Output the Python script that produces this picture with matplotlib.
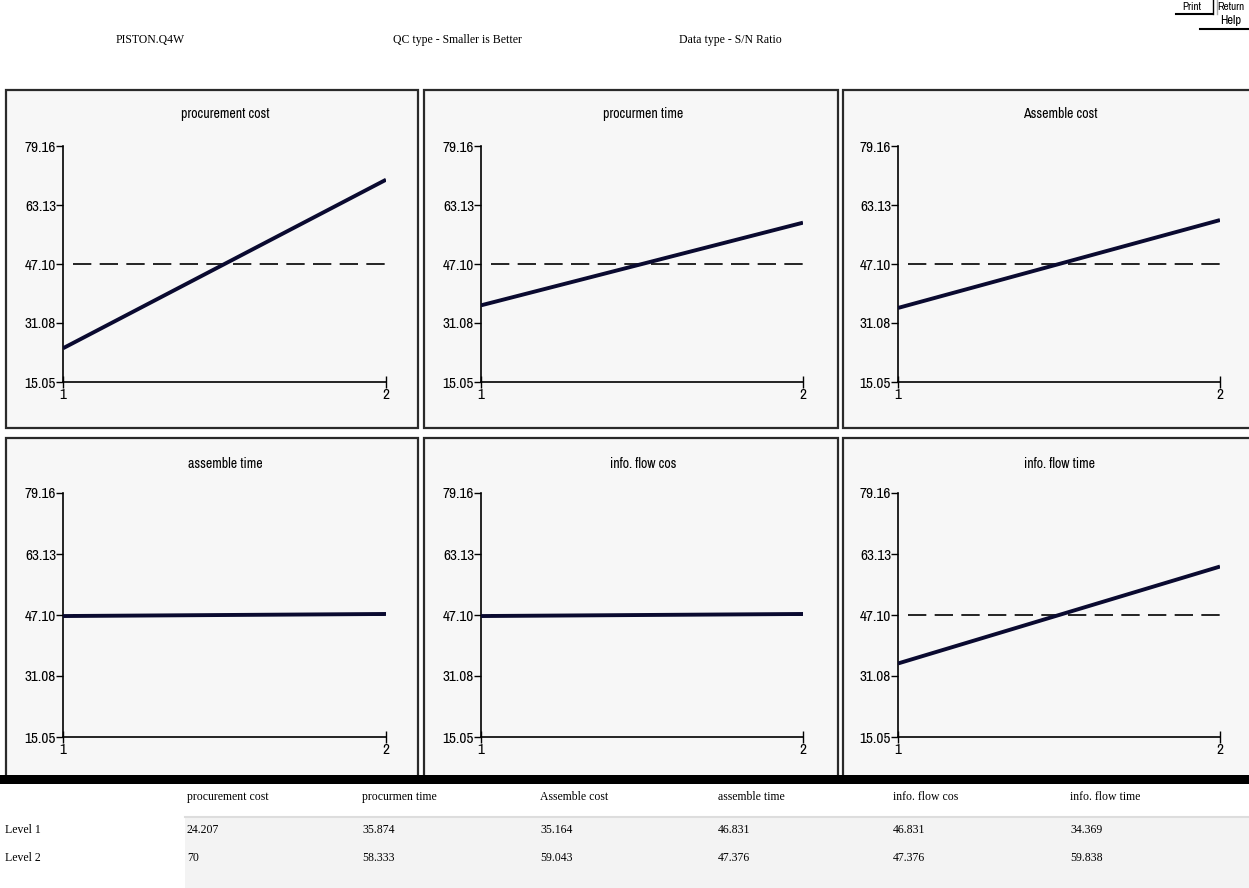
import matplotlib
matplotlib.use("Agg")
import matplotlib.pyplot as plt
from matplotlib.patches import Rectangle
from matplotlib.lines import Line2D
from matplotlib import font_manager as fm

# ---------------- data ----------------
factors = ["procurement cost", "procurmen time", "Assemble cost",
           "assemble time", "info. flow cos", "info. flow time"]
level1 = [24.207, 35.874, 35.164, 46.831, 46.831, 34.369]
level2 = [70, 58.333, 59.043, 47.376, 47.376, 59.838]
level1_txt = ["24.207", "35.874", "35.164", "46.831", "46.831", "34.369"]
level2_txt = ["70", "58.333", "59.043", "47.376", "47.376", "59.838"]
yticks = [15.05, 31.08, 47.10, 63.13, 79.16]
ytick_labels = ["15.05", "31.08", "47.10", "63.13", "79.16"]
xlevels = [1, 2]
grand_mean = 47.10

W, H = 1249, 888
fig = plt.figure(figsize=(W / 100, H / 100), dpi=100)
fig.patch.set_facecolor("white")

names = sorted({f.name for f in fm.fontManager.ttflist})
narrow_candidates = [n for n in names if "Narrow" in n or "Condensed" in n]
if narrow_candidates:
    NARROW = [narrow_candidates[0], "DejaVu Sans"]
else:
    NARROW = ["DejaVu Sans"]
SERIF = ["Liberation Serif", "DejaVu Serif"]


def fx(x):
    return x / W


def fy(y):
    return 1 - y / H


def px_axes(x0, y0, x1, y1, **kw):
    return fig.add_axes([fx(x0), fy(y1), (x1 - x0) / W, (y1 - y0) / H], **kw)


bg = fig.add_axes([0, 0, 1, 1], zorder=0)
bg.set_xlim(0, W)
bg.set_ylim(H, 0)
bg.axis("off")

# header texts
bg.text(150, 40, "PISTON.Q4W", fontsize=8.5, family=SERIF, ha="center", va="center")
bg.text(457, 40, "QC type - Smaller is Better", fontsize=8.5, family=SERIF, ha="center", va="center")
bg.text(730, 40, "Data type - S/N Ratio", fontsize=8.5, family=SERIF, ha="center", va="center")

# top-right buttons
bg.text(1192, 7, "Print", fontsize=8, family=NARROW, ha="center", va="center")
bg.add_line(Line2D([1176, 1212], [14, 14], color="black", lw=1.5))
bg.add_line(Line2D([1213, 1213], [0, 14], color="black", lw=1))
bg.add_line(Line2D([1217, 1217], [0, 14], color="#aaaaaa", lw=1))
bg.text(1231, 7, "Return", fontsize=8, family=NARROW, ha="center", va="center")
bg.text(1231, 21, "Help", fontsize=9, family=NARROW, ha="center", va="center")
bg.add_line(Line2D([1200, 1249], [29, 29], color="black", lw=1.5))

# panels
cols = [(6, 418, 63, 386), (424, 838, 481, 803), (843, 1252, 898, 1220)]
rows = [(90, 428, 146, 382, 114), (438, 778, 493, 737, 464)]

for i, name in enumerate(factors):
    r, c = divmod(i, 3)
    px0, px1, ax0, ax1 = cols[c]
    py0, py1, ay0, ay1, ty = rows[r]
    bg.add_patch(Rectangle((px0, py0), px1 - px0, py1 - py0, facecolor="#f7f7f7",
                           edgecolor="#2a2a2a", lw=1.6, zorder=1))
    bg.text((ax0 + ax1) / 2 + 1, ty, name, fontsize=10, family=NARROW,
            ha="center", va="center", zorder=2)

    ax = px_axes(ax0, ay0, ax1, ay1, zorder=3)
    ax.patch.set_alpha(0)
    ax.set_xlim(1, 2)
    ax.set_ylim(yticks[0], yticks[-1])
    for s in ("top", "right"):
        ax.spines[s].set_visible(False)
    ax.spines["left"].set_linewidth(1.2)
    ax.spines["bottom"].set_linewidth(1.2)
    ax.set_yticks(yticks)
    ax.set_yticklabels(ytick_labels, family=NARROW, fontsize=11)
    ax.set_xticks(xlevels)
    ax.set_xticklabels([str(v) for v in xlevels], family=NARROW, fontsize=11, fontweight="bold")
    ax.tick_params(axis="y", direction="out", length=5, width=1, pad=0)
    ax.tick_params(axis="x", direction="inout", length=8, width=1, pad=0)
    extra = 6.0 / (ax1 - ax0)
    ax.plot([1.03, 2 + extra], [grand_mean, grand_mean],
            color="black", lw=1.2, ls=(0, (11, 5)), zorder=2, clip_on=False)
    ax.plot(xlevels, [level1[i], level2[i]], color="#0a0a30", lw=2.8,
            solid_capstyle="butt", zorder=3)

# black separator bar
bg.add_patch(Rectangle((0, 775), W, 9, facecolor="black", edgecolor="none", zorder=5))

# table area
bg.add_patch(Rectangle((185, 817), W - 185, H - 817, facecolor="#f3f3f3",
                       edgecolor="none", zorder=1))
bg.add_line(Line2D([185, W], [817, 817], color="#dddddd", lw=1.5, zorder=2))

col_x = [187, 362, 540, 718, 893, 1070]
for x, name, a, b in zip(col_x, factors, level1_txt, level2_txt):
    bg.text(x, 797, name, fontsize=8.5, family=SERIF, ha="left", va="center", zorder=3)
    bg.text(x, 830, a, fontsize=8.5, family=SERIF, ha="left", va="center", zorder=3)
    bg.text(x, 858, b, fontsize=8.5, family=SERIF, ha="left", va="center", zorder=3)
bg.text(5, 830, "Level 1", fontsize=8.5, family=SERIF, ha="left", va="center", zorder=3)
bg.text(5, 858, "Level 2", fontsize=8.5, family=SERIF, ha="left", va="center", zorder=3)

fig.savefig("out.png", dpi=100)
